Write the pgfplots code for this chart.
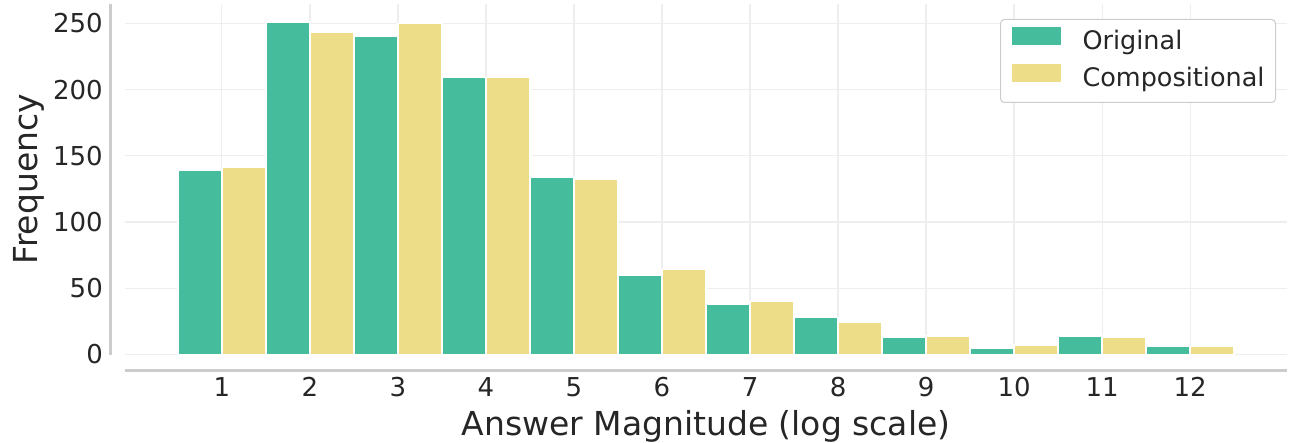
\documentclass[border=0pt]{standalone}
\usepackage{pgfplots}
\pgfplotsset{compat=1.18}
\usepackage{pgfplotstable}
\usepackage{fontspec}
\setmainfont{DejaVu Sans}
\definecolor{origc}{HTML}{45BC9B}
\definecolor{compc}{HTML}{EDDC88}
\definecolor{txt}{HTML}{262626}
\definecolor{gridc}{HTML}{EEEEEE}
\definecolor{spinec}{HTML}{CCCCCC}
\pgfplotstableread{
x orig comp
1 139 141
2 251 243
3 240 250
4 209 209
5 134 132
6 60 64
7 38 40
8 28 24
9 13 14
10 5 7
11 14 13
12 6 6
}\datatable
\begin{document}
\begin{tikzpicture}
\begin{axis}[
 scale only axis, width=1162pt, height=350.5pt,
 xmin=-0.1, xmax=13.1, ymin=0, ymax=264.6,
 xtick={1,...,12}, ytick={0,50,...,250},
 axis line style={draw=none}, major tick length=0pt,
 grid=major, major grid style={gridc, line width=1.3pt},
 tick label style={font=\fontsize{26}{30}\selectfont, text=txt, inner sep=0pt},
 /pgf/number format/assume math mode=true,
 yticklabel style={anchor=east, xshift=-22pt},
 xticklabel style={anchor=north, yshift=-22.5pt},
 xlabel={Answer Magnitude (log scale)}, ylabel={Frequency},
 label style={font=\fontsize{33}{38}\selectfont, text=txt, inner sep=0pt},
 xlabel style={at={(axis description cs:0.5,-0.1583)}, anchor=north},
 ylabel style={at={(axis description cs:-0.0964,0.5)}, anchor=north},
 ybar, bar width=0.5, bar shift=0pt,
 legend style={at={(axis description cs:1,1)}, anchor=north east, xshift=-11pt, yshift=-15pt,
   draw=spinec, line width=1pt, rounded corners=4pt, fill=white,
   font=\fontsize{25.5}{30}\selectfont, text=txt, inner xsep=11pt, inner ysep=8pt,
   row sep=7pt, column sep=22pt,
   nodes={inner sep=0pt, text height=17pt, text depth=8pt}},
 legend cell align=left,
 legend image code/.code={\fill[#1, draw=none, sharp corners] (0pt,0pt) rectangle (49pt,17.5pt);},
]
\addplot[fill=origc, draw=white, line width=1.5pt] table[x expr=\thisrow{x}-0.25, y=orig] {\datatable};
\addlegendentry{Original}
\addplot[fill=compc, draw=white, line width=1.5pt] table[x expr=\thisrow{x}+0.25, y=comp] {\datatable};
\addlegendentry{Compositional}
\end{axis}
\draw[spinec, line width=3pt] ([yshift=-16pt]current axis.south west) -- ([yshift=-16pt]current axis.south east);
\draw[spinec, line width=3pt] ([xshift=-15pt]current axis.south west) -- ([xshift=-15pt]current axis.north west);
\pgfresetboundingbox
\path ([xshift=-125pt,yshift=-87.5pt]current axis.south west) rectangle ([xshift=2pt,yshift=4pt]current axis.north east);
\end{tikzpicture}
\end{document}
